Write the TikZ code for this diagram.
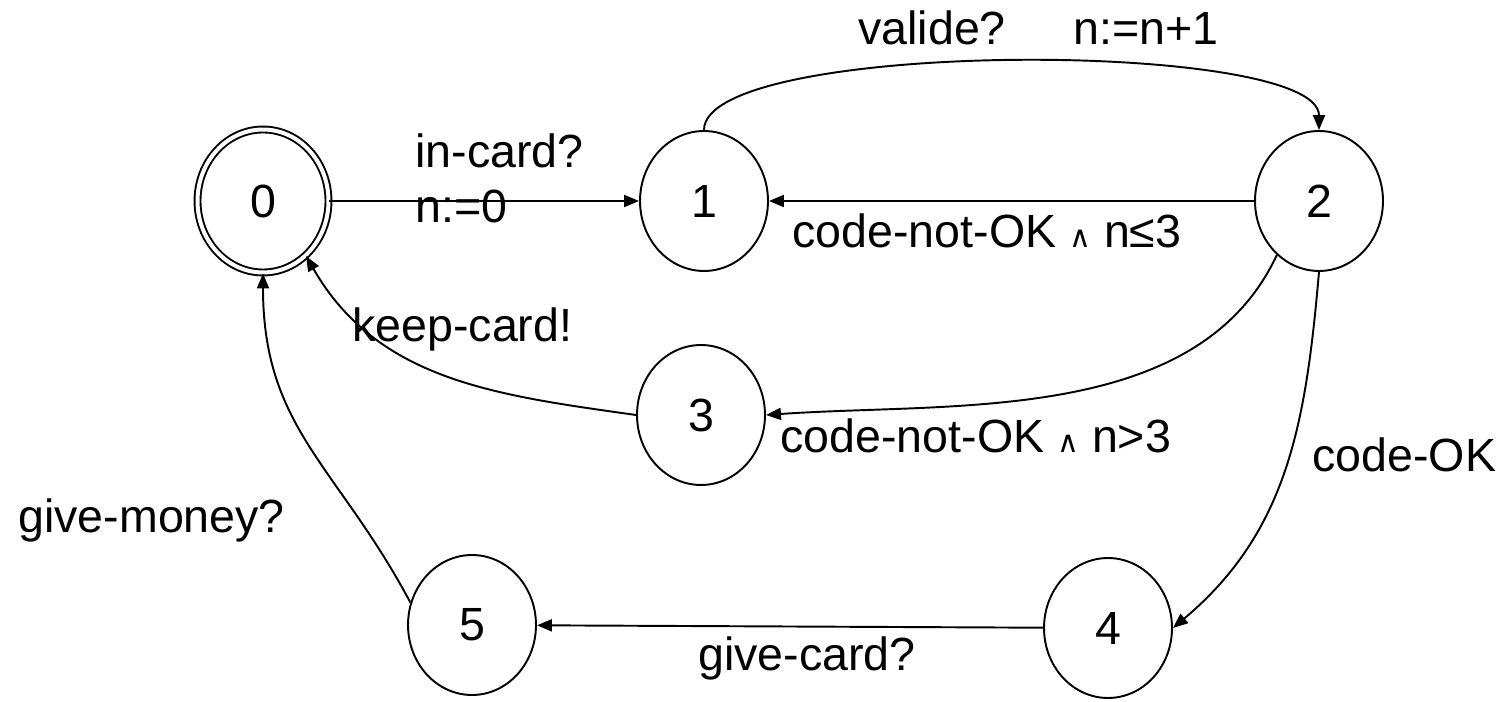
\documentclass[tikz,border=0pt]{standalone}
\usepackage{fontspec}
\setmainfont{Liberation Sans}
\newfontfamily\symfont{DejaVu Sans}
\usetikzlibrary{arrows.meta, shapes}

\newcommand{\wedgeand}{{\symfont\fontsize{17}{17}\selectfont ∧}}

\begin{document}
\begin{tikzpicture}[x = 0.02cm, y = -0.02cm]

\tikzstyle{state_q}=[ellipse, draw, line width = 1.1pt, minimum width = 2.56cm, minimum height = 2.8cm, inner sep = 0, font = \fontsize{26.5}{30}\selectfont]
\tikzstyle{state_f}=[state_q, double, double distance = 0.08cm, minimum width = 2.62cm, minimum height = 2.86cm]
\tikzstyle{edge_lbl}=[anchor = base west, inner sep = 0, font = \fontsize{26.5}{30}\selectfont]
\tikzstyle{trans}=[-{Triangle[length = 0.3cm, width = 0.24cm]}, line width = 1.1pt, color = black]

\useasboundingbox (0, 0) rectangle (1508, 702);

\coordinate (S0) at (263, 201);
\coordinate (S1) at (704, 201);
\coordinate (S2) at (1319, 201);
\coordinate (S3) at (701, 415);
\coordinate (S4) at (1108, 628);
\coordinate (S5) at (472, 625);

\path
(S0) node[state_f](q0) {0}
(S1) node[state_q](q1) {1}
(S2) node[state_q](q2) {2}
(S3) node[state_q](q3) {3}
(S4) node[state_q](q4) {4}
(S5) node[state_q](q5) {5};

% labels, placed by their baselines
\path
(415, 168) node[edge_lbl](l01a) {in-card?}
(415, 223) node[edge_lbl](l01b) {n:=0}
(858, 45) node[edge_lbl](l12) {valide?\hspace{1.35cm}n:=n+1}
(792, 248) node[edge_lbl](l21) {code-not-OK \wedgeand{} n≤3}
(780, 453) node[edge_lbl](l23) {code-not-OK \wedgeand{} n>3}
(352, 342) node[edge_lbl](l30) {keep-card!}
(1312, 472) node[edge_lbl](l24) {code-OK}
(698, 670) node[edge_lbl](l45) {give-card?}
(18, 532) node[edge_lbl](l50) {give-money?};

% transitions
\draw[trans] (q0) -- (q1);
\draw[trans] (q1.north) to [out=90, in=90, looseness=0.38] (q2.north);
\draw[trans] (q2) -- (q1);
\draw[trans] (q2.-128) to [out=-115, in=4, looseness=0.9] (q3.east);
\draw[trans] (q3.west) to [out=172, in=-60] (q0.-52);
\draw[trans] (q2.south) to [out=-95, in=40] (q4.east);
\draw[trans] (q4) -- (q5);
\draw[trans] (q5.160) to [out=118, in=-90, looseness=1.1] (q0.south);

\end{tikzpicture}
\end{document}
